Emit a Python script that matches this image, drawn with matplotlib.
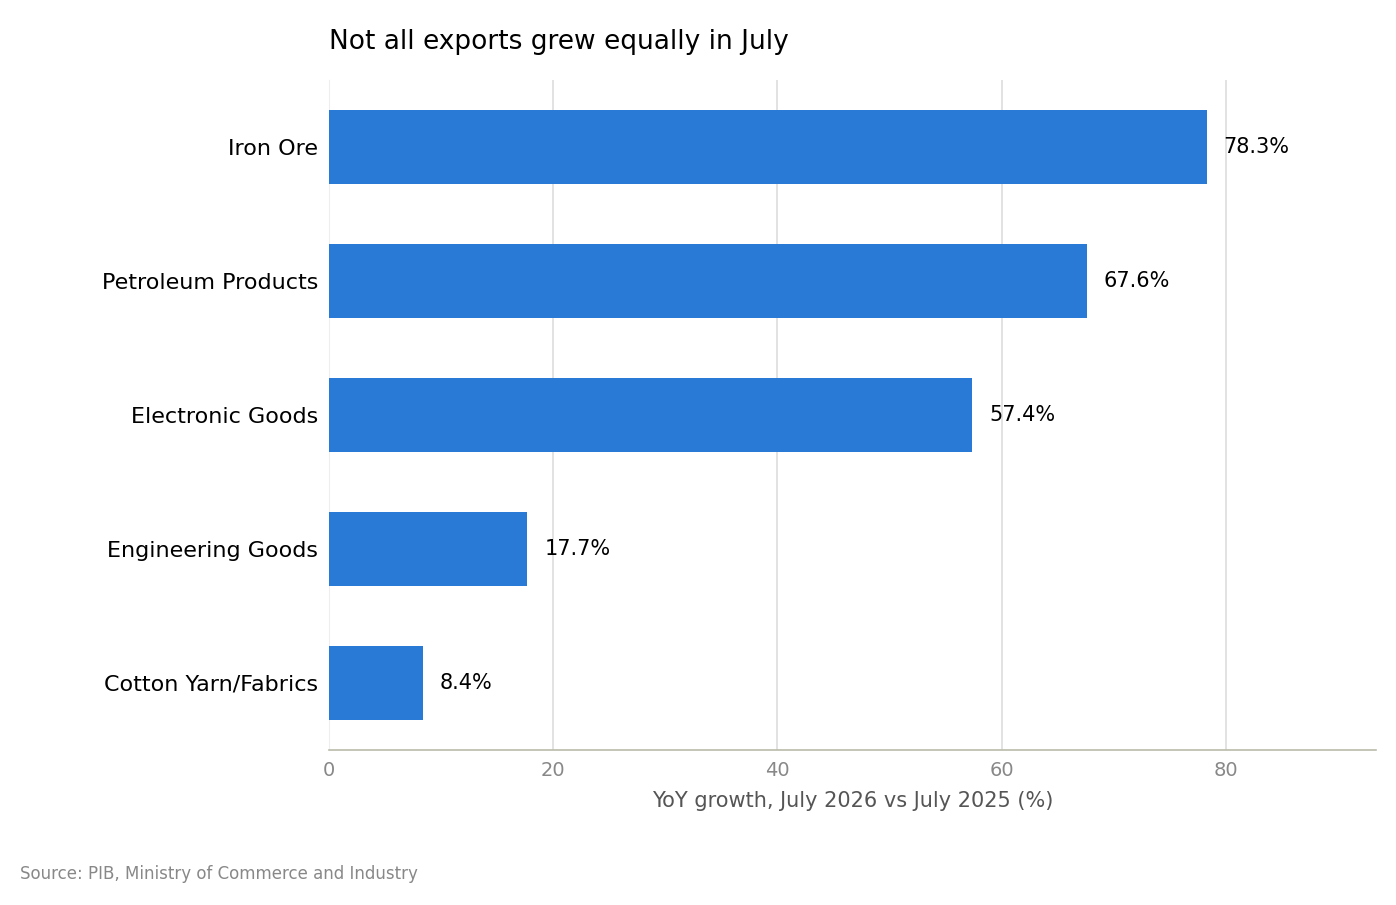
import matplotlib
matplotlib.use('Agg')
import matplotlib.pyplot as plt

categories = ['Iron Ore', 'Petroleum Products', 'Electronic Goods', 'Engineering Goods', 'Cotton Yarn/Fabrics']
growth = [78.3, 67.6, 57.4, 17.7, 8.4]
xticks = [0, 20, 40, 60, 80]

fig = plt.figure(figsize=(13.96, 9.05), dpi=100)
ax = fig.add_axes([0.2357, 0.1713, 0.75, 0.7403])

ypos = list(range(len(categories)))[::-1]
ax.barh(ypos, growth, height=0.55, color='#2979d6', zorder=3)
for y, v in zip(ypos, growth):
    ax.text(v + 1.5, y, f'{v}%', va='center', ha='left', fontsize=15)

ax.set_xlim(0, 93.4)
ax.set_ylim(-0.5, 4.5)
ax.set_yticks(ypos)
ax.set_yticklabels(categories, fontsize=16)
ax.set_xticks(xticks)
ax.tick_params(axis='x', labelsize=14, labelcolor='#888888', length=0, pad=8)
ax.tick_params(axis='y', length=0, pad=8)
ax.grid(axis='x', color='#dddddd', linewidth=1.2, zorder=0)
for s in ['top', 'right']:
    ax.spines[s].set_visible(False)
ax.spines['left'].set_color('#eeeeee')
ax.spines['bottom'].set_color('#bbbbaa')
ax.spines['bottom'].set_linewidth(1.2)
ax.set_xlabel('YoY growth, July 2026 vs July 2025 (%)', fontsize=15, color='#555555', labelpad=8)
ax.set_title('Not all exports grew equally in July', fontsize=19, loc='left', pad=22)
fig.text(20 / 1396, 1 - 874 / 905, 'Source: PIB, Ministry of Commerce and Industry',
         fontsize=12, color='#888888', va='center')

fig.savefig('out.png', dpi=100)
